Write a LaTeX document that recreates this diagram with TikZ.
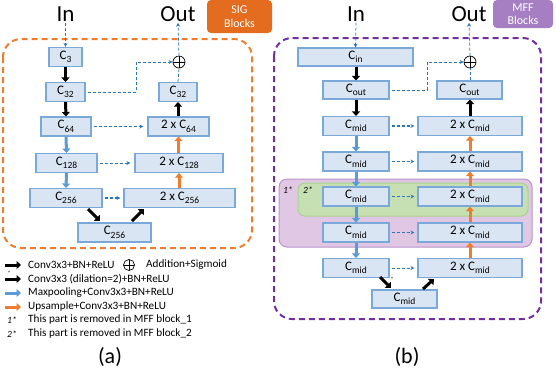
\documentclass[tikz,border=0pt]{standalone}
\usepackage{fontspec}
\setmainfont{Carlito}
\usetikzlibrary{arrows.meta}
\definecolor{boxf}{HTML}{DAE5F3}
\definecolor{boxd}{HTML}{7AA8D8}
\definecolor{arrblue}{HTML}{5B9BD5}
\definecolor{arrorange}{HTML}{ED7D31}
\definecolor{dashblue}{HTML}{2E75B6}
\definecolor{sigorange}{HTML}{E36C1E}
\definecolor{mffpurple}{HTML}{A67FC3}
\definecolor{dpurple}{HTML}{7030A0}
\definecolor{regpurple}{HTML}{E0C8E4}
\definecolor{regpurpled}{HTML}{B894CC}
\definecolor{reggreen}{HTML}{C6E0B4}
\definecolor{reggreend}{HTML}{A9D18E}
\newcommand{\Cs}[1]{C\raisebox{-0.55ex}{\fontsize{9.5}{9.5}\selectfont #1}}
\begin{document}
\begin{tikzpicture}[x=1pt,y=-1pt,
  bx/.style={draw=boxd, fill=boxf, line width=1.1pt, inner sep=0pt, minimum height=19, font=\fontsize{13}{13}\selectfont},
  blk/.style={line width=3pt, draw=black, -{Triangle[length=4.5pt,width=8pt]}},
  blu/.style={blk, draw=arrblue},
  org/.style={blk, draw=arrorange},
  dsh/.style={draw=dashblue, line width=0.75pt, dash pattern=on 3pt off 2pt, -{Stealth[length=4pt,width=4pt]}},
  dshk/.style={dsh, line width=1.2pt},
  pl/.style={circle, draw, line width=0.7pt, minimum size=12, inner sep=0pt,
     path picture={\draw[line width=0.7pt] (path picture bounding box.north) -- (path picture bounding box.south)
       (path picture bounding box.west) -- (path picture bounding box.east);}},
  big/.style={font=\fontsize{23}{23}\selectfont, inner sep=1pt},
  lg/.style={anchor=west, inner sep=0pt, font=\fontsize{11.2}{11.2}\selectfont},
  tag/.style={rounded corners=4pt, text=white, align=center, font=\fontsize{12}{13.5}\selectfont, inner sep=0pt}
]
\useasboundingbox (0,0) rectangle (556,368);

% ---------------- (a) SIG block ----------------
\node[tag, fill=sigorange, minimum width=65, minimum height=33] (sig) at (239.5,16.5) {SIG\\Blocks};
\draw[draw=arrorange, line width=2pt, dash pattern=on 6pt off 4pt, rounded corners=18pt] (3,39) rectangle (252,248);

\node[big] (ina) at (65.5,14) {In};
\node[big] (outa) at (178,14) {Out};

\node[bx, minimum width=33] (c3) at (65.5,57) {\Cs{3}};
\node[bx, minimum width=39] (c32) at (65.5,92) {\Cs{32}};
\node[bx, minimum width=50] (c64) at (66,126.5) {\Cs{64}};
\node[bx, minimum width=61] (c128) at (66.5,163) {\Cs{128}};
\node[bx, minimum width=72] (c256) at (66,198) {\Cs{256}};
\node[bx, minimum width=73] (c256b) at (114.5,232.5) {\Cs{256}};
\node[bx, minimum width=111] (d256) at (179.5,198) {2 x \Cs{256}};
\node[bx, minimum width=88] (d128) at (179,163) {2 x \Cs{128}};
\node[bx, minimum width=61] (d64) at (178.5,126.5) {2 x \Cs{64}};
\node[bx, minimum width=38] (e32) at (178,92) {\Cs{32}};
\node[pl] (pa) at (179,62) {};
\coordinate (ka) at (136,62);

\draw[dsh] (ina.south) -- (c3.north);
\draw[blk] (c3.south) -- (c32.north);
\draw[blk] (c32.south) -- (c64.north);
\draw[blu] (c64.south) -- (c128.north);
\draw[blu] (c128.south) -- (c256.north);
\draw[org] (d256.north -| d128.south) -- (d128.south);
\draw[org] (d128.north -| d64.south) -- (d64.south);
\draw[blk] (d64.north -| e32.south) -- (e32.south);
\draw[dsh, -] (e32.north) -- (pa.south);
\draw[dsh] (pa.north) -- (outa.south);
\draw[dsh] ([xshift=2pt]c32.east) -| (ka) -- (pa.west);
\draw[dsh] ([xshift=2pt]c64.east) -- ([xshift=-4pt]d64.west);
\draw[dsh] ([xshift=2pt]c128.east) -- ([xshift=-4pt]d128.west);
\draw[dshk] ([xshift=2pt]c256.east) -- ([xshift=-3pt]d256.west);
\coordinate (a1) at (88,209); \coordinate (a2) at (100,221);
\coordinate (a3) at (132,221); \coordinate (a4) at (144,209);
\draw[blk] (a1) -- (a2);
\draw[blk] (a3) -- (a4);

% legend
\coordinate (l1a) at (5,265); \coordinate (l1b) at (21,265);
\coordinate (l2a) at (5,279); \coordinate (l2b) at (21,279);
\coordinate (l3a) at (5,293); \coordinate (l3b) at (21,293);
\coordinate (l4a) at (5,307); \coordinate (l4b) at (21,307);
\draw[blk] (l1a) -- (l1b);
\draw[blk] (l2a) -- (l2b);
\node[inner sep=0pt, font=\fontsize{6}{6}\selectfont] (ast) at (9,273) {*};
\draw[blu] (l3a) -- (l3b);
\draw[org] (l4a) -- (l4b);
\node[lg] (t1) at (28,265) {Conv3x3+BN+ReLU};
\node[pl, minimum size=11] (lp) at (129,265) {};
\node[lg] (t1b) at (146,265) {Addition+Sigmoid};
\node[lg] (t2) at (28,279) {Conv3x3 (dilation=2)+BN+ReLU};
\node[lg] (t3) at (28,293) {Maxpooling+Conv3x3+BN+ReLU};
\node[lg] (t4) at (28,307) {Upsample+Conv3x3+BN+ReLU};
\node[lg, font=\fontsize{9.5}{9.5}\selectfont\itshape] (s1) at (7,320) {1*};
\node[lg, font=\fontsize{9.5}{9.5}\selectfont\itshape] (s2) at (7,334) {2*};
\node[lg] (t5) at (28,320) {This part is removed in MFF block\_1};
\node[lg] (t6) at (28,334) {This part is removed in MFF block\_2};
\node[font=\fontsize{22}{22}\selectfont] (la) at (110,357) {(a)};

% ---------------- (b) MFF block ----------------
\node[tag, fill=mffpurple, minimum width=60, minimum height=28] (mff) at (523,14) {MFF\\Blocks};
\draw[draw=dpurple, line width=2pt, dash pattern=on 6pt off 4pt, rounded corners=18pt] (274,38) rectangle (541,319);
\draw[draw=regpurpled, fill=regpurple, line width=1pt, rounded corners=8pt] (279,179) rectangle (532,247);
\draw[draw=reggreend, fill=reggreen, line width=1pt, rounded corners=7pt] (298,183) rectangle (528,216);
\node[inner sep=0pt, font=\fontsize{9.5}{9.5}\selectfont\itshape] (r1) at (288,190) {1*};
\node[inner sep=0pt, font=\fontsize{9.5}{9.5}\selectfont\itshape] (r2) at (308,190) {2*};

\node[big] (inb) at (356,14) {In};
\node[big] (outb) at (469,14) {Out};

\node[bx, minimum width=115, minimum height=18] (cin) at (355.5,57) {\Cs{in}};
\node[bx, minimum width=66, minimum height=18] (cout) at (356,90) {\Cs{out}};
\node[bx, minimum width=66] (m1) at (356,126) {\Cs{mid}};
\node[bx, minimum width=66] (m2) at (356,161.5) {\Cs{mid}};
\node[bx, minimum width=66] (m3) at (356,196.5) {\Cs{mid}};
\node[bx, minimum width=66] (m4) at (356,232.5) {\Cs{mid}};
\node[bx, minimum width=66] (m5) at (356,268) {\Cs{mid}};
\node[bx, minimum width=104] (n1) at (470,126) {2 x \Cs{mid}};
\node[bx, minimum width=104] (n2) at (470,161.5) {2 x \Cs{mid}};
\node[bx, minimum width=104] (n3) at (470,196.5) {2 x \Cs{mid}};
\node[bx, minimum width=104] (n4) at (470,232.5) {2 x \Cs{mid}};
\node[bx, minimum width=104] (n5) at (470,268) {2 x \Cs{mid}};
\node[bx, minimum width=65, minimum height=18] (eout) at (469.5,90) {\Cs{out}};
\node[bx, minimum width=65, minimum height=18] (mb) at (404.5,299) {\Cs{mid}};
\node[pl] (pb) at (470,62) {};
\coordinate (kb) at (427,62);

\draw[dsh] (inb.south) -- (cin.north);
\draw[blk] (cin.south -| cout.north) -- (cout.north);
\draw[blk] (cout.south) -- (m1.north);
\draw[blu] (m1.south) -- (m2.north);
\draw[blu] (m2.south) -- (m3.north);
\draw[blu] (m3.south) -- (m4.north);
\draw[blu] (m4.south) -- (m5.north);
\draw[org] (n5.north) -- (n4.south);
\draw[org] (n4.north) -- (n3.south);
\draw[org] (n3.north) -- (n2.south);
\draw[org] (n2.north) -- (n1.south);
\draw[blk] (n1.north) -- (n1.north |- eout.south);
\draw[dsh, -] (eout.north -| pb.south) -- (pb.south);
\draw[dsh] (pb.north) -- (outb.south);
\draw[dsh] ([xshift=2pt]cout.east) -| (kb) -- (pb.west);
\draw[dshk] ([xshift=2pt]m1.east) -- ([xshift=-3pt]n1.west);
\draw[dshk] ([xshift=2pt]m2.east) -- ([xshift=-3pt]n2.west);
\draw[dshk] ([xshift=2pt]m3.east) -- ([xshift=-3pt]n3.west);
\draw[dshk] ([xshift=2pt]m4.east) -- ([xshift=-3pt]n4.west);
\draw[dsh] ([xshift=2pt]m5.east) -- ([xshift=-3pt]n5.west);
\coordinate (b1) at (380,277); \coordinate (b2) at (391,288);
\coordinate (b3) at (423,289); \coordinate (b4) at (434,279);
\draw[blk] (b1) -- (b2);
\draw[blk] (b3) -- (b4);
\node[inner sep=0pt, font=\fontsize{6}{6}\selectfont] (astb) at (392,279) {*};
\node[font=\fontsize{22}{22}\selectfont] (lb) at (407,357) {(b)};
\end{tikzpicture}
\end{document}
